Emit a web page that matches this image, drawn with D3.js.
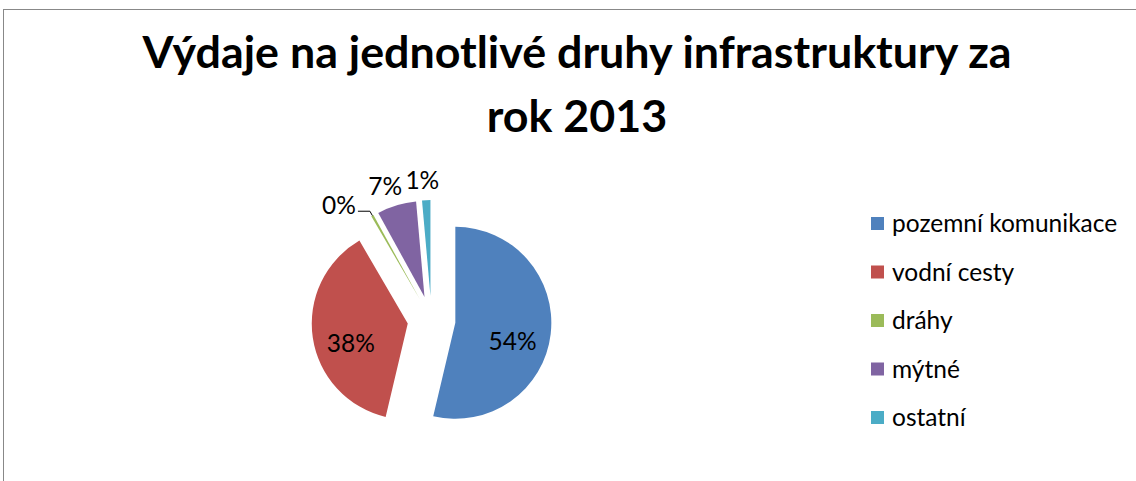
<!DOCTYPE html>
<html>
<head>
<meta charset="utf-8">
<script src="https://cdn.jsdelivr.net/npm/d3@7"></script>
<style>
  body { margin: 0; background: #fff; }
  text { font-family: Lato, "Open Sans", sans-serif; fill: #000; }
</style>
</head>
<body>
<div id="chart"></div>
<script>
const categories = ["pozemní komunikace", "vodní cesty", "dráhy", "mýtné", "ostatní"];
const values = [53.7, 37.9, 0.4, 6.6, 1.4];
const colors = ["#4F81BD", "#C0504D", "#9BBB59", "#8064A2", "#4BACC6"];
const titleLines = ["Výdaje na jednotlivé druhy infrastruktury za", "rok 2013"];

const W = 1136, H = 481;
const cx = 431.5, cy = 320, r = 96, explode = 24;

const svg = d3.select("#chart").append("svg")
    .attr("width", W)
    .attr("height", H);

// chart frame (cropped at the right and bottom)
svg.append("rect")
    .attr("x", 3.5).attr("y", 9.5)
    .attr("width", W + 10).attr("height", H + 10)
    .attr("fill", "none")
    .attr("stroke", "#888");

// title, fit the first line to the width it has in the picture
const title = svg.append("text")
    .attr("text-anchor", "middle")
    .style("font-weight", "bold")
    .style("font-size", "32px");
title.selectAll("tspan")
    .data(titleLines)
    .join("tspan")
    .attr("x", 577)
    .attr("y", (d, i) => 68 + i * 64)
    .text(d => d);
const w0 = title.select("tspan").node().getComputedTextLength();
title.style("font-size", (32 * 869 / w0).toFixed(2) + "px");

const total = d3.sum(values);
const pie = d3.pie().sort(null).value(d => d)(values);
const arc = d3.arc().innerRadius(0).outerRadius(r);

const g = svg.append("g").attr("transform", `translate(${cx},${cy})`);

const mid = d => (d.startAngle + d.endAngle) / 2;
const off = d => [Math.sin(mid(d)) * explode, -Math.cos(mid(d)) * explode];

const slices = g.selectAll("g.slice")
    .data(pie)
    .join("g")
    .attr("class", "slice")
    .attr("transform", d => `translate(${off(d)})`);

slices.append("path")
    .attr("d", arc)
    .attr("fill", (d, i) => colors[i]);

const pct = d => Math.round(d.value / total * 100) + "%";
const fs = 24.5;

slices.each(function(d) {
    const s = d3.select(this);
    const a = mid(d);
    const share = d.value / total;
    if (share >= 0.1) {
        s.append("text")
            .attr("x", Math.sin(a) * r * 0.6)
            .attr("y", -Math.cos(a) * r * 0.6 + 11)
            .attr("text-anchor", "middle")
            .attr("dominant-baseline", "central")
            .style("font-size", fs + "px")
            .text(pct(d));
    } else if (share < 0.01) {
        // tiny slice: leader line to the label
        const p0 = [Math.sin(a) * r, -Math.cos(a) * r];
        const p1 = [Math.sin(a) * (r + 5), -Math.cos(a) * (r + 5)];
        const p2 = [p1[0] - 12, p1[1]];
        s.append("path")
            .attr("d", d3.line()([p0, p1, p2]))
            .attr("fill", "none")
            .attr("stroke", "#000")
            .attr("stroke-width", 1);
        s.append("text")
            .attr("x", p2[0] - 2)
            .attr("y", p2[1] + 3)
            .attr("text-anchor", "end")
            .style("font-size", fs + "px")
            .text(pct(d));
    } else {
        const t = s.append("text")
            .attr("text-anchor", "middle")
            .attr("dominant-baseline", "central")
            .style("font-size", fs + "px")
            .text(pct(d));
        const bw = t.node().getComputedTextLength(), bh = fs;
        const sx = Math.sin(a), sy = -Math.cos(a);
        t.attr("x", sx * (r + 8) + Math.sign(sx) * Math.sqrt(Math.abs(sx)) * bw / 2)
         .attr("y", sy * (r + 8) + sy * bh / 2);
    }
});

// legend
const legend = svg.append("g").attr("transform", "translate(871,232)");
const rows = legend.selectAll("g")
    .data(categories)
    .join("g")
    .attr("transform", (d, i) => `translate(0,${i * 48.5})`);
rows.append("rect")
    .attr("x", 0).attr("y", -15)
    .attr("width", 13).attr("height", 13)
    .attr("fill", (d, i) => colors[i]);
rows.append("text")
    .attr("x", 21)
    .attr("y", 0)
    .style("font-size", fs + "px")
    .text(d => d);
</script>
</body>
</html>
